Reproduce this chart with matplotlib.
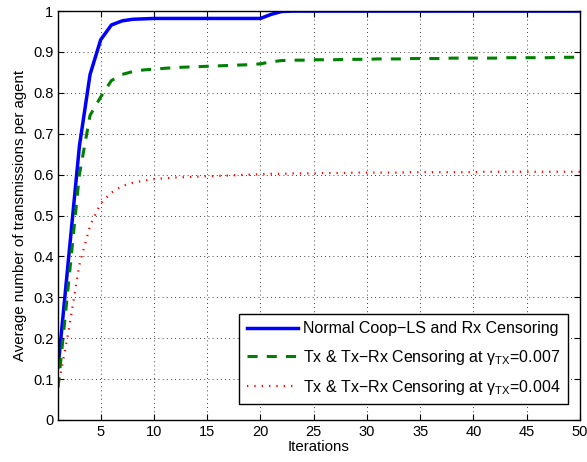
import matplotlib
matplotlib.use("Agg")
import matplotlib.pyplot as plt
import numpy as np

plt.rcParams['font.family'] = ['Liberation Sans', 'DejaVu Sans']
plt.rcParams['mathtext.fontset'] = 'custom'
plt.rcParams['mathtext.rm'] = 'Liberation Sans'
plt.rcParams['mathtext.it'] = 'Liberation Sans:italic'

# data
iterations = list(range(1, 51))
normal = [0.13, 0.40, 0.67, 0.845, 0.93, 0.966, 0.976, 0.980, 0.981, 0.982,
          0.982, 0.982, 0.982, 0.982, 0.982, 0.982, 0.982, 0.982, 0.982, 0.982,
          0.992, 0.999, 1.0, 1.0, 1.0, 1.0, 1.0, 1.0, 1.0, 1.0,
          1.0, 1.0, 1.0, 1.0, 1.0, 1.0, 1.0, 1.0, 1.0, 1.0,
          1.0, 1.0, 1.0, 1.0, 1.0, 1.0, 1.0, 1.0, 1.0, 1.0]
tx_007 = [0.08, 0.34, 0.60, 0.745, 0.79, 0.83, 0.845, 0.852, 0.856, 0.858,
          0.860, 0.862, 0.863, 0.864, 0.865, 0.866, 0.867, 0.868, 0.869, 0.871,
          0.876, 0.879, 0.880, 0.880, 0.881, 0.881, 0.881, 0.882, 0.882, 0.882,
          0.883, 0.883, 0.883, 0.884, 0.884, 0.884, 0.884, 0.885, 0.885, 0.885,
          0.885, 0.885, 0.886, 0.886, 0.886, 0.886, 0.886, 0.887, 0.887, 0.887]
tx_004 = [0.08, 0.22, 0.38, 0.475, 0.53, 0.556, 0.572, 0.580, 0.585, 0.589,
          0.591, 0.593, 0.594, 0.595, 0.596, 0.597, 0.598, 0.599, 0.600, 0.601,
          0.602, 0.602, 0.603, 0.603, 0.603, 0.604, 0.604, 0.604, 0.605, 0.605,
          0.605, 0.605, 0.605, 0.606, 0.606, 0.606, 0.606, 0.606, 0.606, 0.606,
          0.607, 0.607, 0.607, 0.607, 0.607, 0.607, 0.607, 0.607, 0.607, 0.607]

fig = plt.figure(figsize=(5.87, 4.62), dpi=100)
ax = fig.add_axes([0.099, 0.091, 0.889, 0.885])

ax.plot(iterations, normal, color='#0000ff', lw=2.5,
        label='Normal Coop\u2212LS and Rx Censoring')
ax.plot(iterations, tx_007, color='#008000', lw=2.2, linestyle=(0, (3.3, 3.0)),
        label='Tx & Tx\u2212Rx Censoring at \u03b3$_{\\mathrm{TX}}$=0.007')
ax.plot(iterations, tx_004, color='#ff0000', lw=1.6, linestyle=(0, (0.6, 2.7)),
        label='Tx & Tx\u2212Rx Censoring at \u03b3$_{\\mathrm{TX}}$=0.004')

ax.set_xlim(1, 50)
ax.set_ylim(0, 1)
ax.set_xticks([5, 10, 15, 20, 25, 30, 35, 40, 45, 50])
ax.set_yticks(np.arange(0, 1.01, 0.1))
ax.set_yticklabels(['0', '0.1', '0.2', '0.3', '0.4', '0.5', '0.6', '0.7', '0.8', '0.9', '1'])
ax.tick_params(direction='in', top=True, right=True, length=4, labelsize=10.5, width=0.8)
ax.grid(True, color='black', linestyle=(0, (1, 4)), linewidth=0.6)
for s in ax.spines.values():
    s.set_linewidth(1.0)

ax.set_xlabel('Iterations', fontsize=10.8, labelpad=1)
ax.set_ylabel('Average number of transmissions per agent', fontsize=10.8, labelpad=4)

leg = ax.legend(loc='lower right', bbox_to_anchor=(0.977, 0.039), borderaxespad=0,
                fontsize=11.5, handlelength=3.2, handletextpad=0.35, fancybox=False,
                framealpha=1, edgecolor='black', borderpad=0.45, labelspacing=0.7)
leg.get_frame().set_linewidth(1.0)

fig.savefig('out.png', dpi=100)
